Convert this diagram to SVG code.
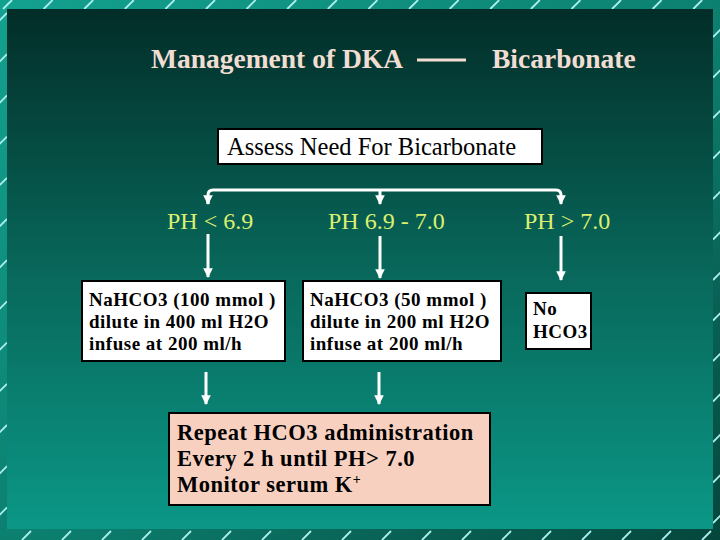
<svg xmlns="http://www.w3.org/2000/svg" width="720" height="540" viewBox="0 0 720 540">
<defs>
<linearGradient id="outer" x1="0" y1="0" x2="1" y2="1">
<stop offset="0" stop-color="#13a18f"/>
<stop offset="0.55" stop-color="#0c7d6d"/>
<stop offset="1" stop-color="#05463c"/>
</linearGradient>
<linearGradient id="inner" x1="0" y1="0" x2="0" y2="1">
<stop offset="0" stop-color="#022d28"/>
<stop offset="0.5" stop-color="#08675a"/>
<stop offset="1" stop-color="#0b9786"/>
</linearGradient>
<marker id="ah" viewBox="0 0 10 10" refX="9" refY="5" markerWidth="3.2" markerHeight="3.2" orient="auto" markerUnits="strokeWidth">
<path d="M0,0 L10,5 L0,10 z" fill="#ffffff"/>
</marker>
<style>
.title{font-family:"Liberation Serif","Times New Roman",serif;font-weight:bold;font-size:27.5px;fill:#f2ddd2}
.ph{font-family:"Liberation Serif","Times New Roman",serif;font-size:24px;fill:#dcf070}
.box{fill:#ffffff;stroke:#000000;stroke-width:2}
.btxt{font-family:"Liberation Serif","Times New Roman",serif;font-weight:bold;font-size:19px;fill:#000000;letter-spacing:0.5px}
.conn{fill:none;stroke:#ffffff;stroke-width:3}
.slash{fill:none;stroke:#aaeeee;stroke-width:1.8}
</style>
</defs>
<rect x="0" y="0" width="720" height="540" fill="url(#outer)"/>
<path class="slash" d="M3 9L12 0M43.6 9L52.6 0M84.2 9L93.2 0M124.8 9L133.8 0M165.4 9L174.4 0M206 9L215 0M246.6 9L255.6 0M287.2 9L296.2 0M327.8 9L336.8 0M368.4 9L377.4 0M409 9L418 0M449.6 9L458.6 0M490.2 9L499.2 0M530.8 9L539.8 0M571.4 9L580.4 0M612 9L621 0M652.6 9L661.6 0M693.2 9L702.2 0
M22 540L31 531M62 540L71 531M102 540L111 531M142 540L151 531M182 540L191 531M222 540L231 531M262 540L271 531M302 540L311 531M342 540L351 531M382 540L391 531M422 540L431 531M462 540L471 531M502 540L511 531M542 540L551 531M582 540L591 531M622 540L631 531M662 540L671 531M702 540L711 531
M-1 21L7 13M-1 62.2L7 54.2M-1 103.4L7 95.4M-1 144.6L7 136.6M-1 185.8L7 177.8M-1 227L7 219M-1 268.2L7 260.2M-1 309.4L7 301.4M-1 350.6L7 342.6M-1 391.8L7 383.8M-1 433L7 425M-1 474.2L7 466.2M-1 515.4L7 507.4
M713 37L721 29M713 77.5L721 69.5M713 118L721 110M713 158.5L721 150.5M713 199L721 191M713 239.5L721 231.5M713 280L721 272M713 320.5L721 312.5M713 361L721 353M713 401.5L721 393.5M713 442L721 434M713 482.5L721 474.5M713 523L721 515"/>
<rect x="7" y="9" width="706" height="520" fill="url(#inner)"/>

<g id="title">
<text class="title" x="151" y="68">Management of DKA</text>
<line x1="417" y1="60" x2="466" y2="60" stroke="#f2ddd2" stroke-width="3"/>
<text class="title" x="492" y="68">Bicarbonate</text>
</g>

<g id="connectors">
<path class="conn" d="M208 204V195Q208 190 213 190H556Q561 190 561 195V204" marker-end="url(#ah)"/>
<path class="conn" d="M208 198V204" marker-end="url(#ah)"/>
<path class="conn" d="M380 190V204" marker-end="url(#ah)"/>
<path class="conn" d="M208 234V277" marker-end="url(#ah)"/>
<path class="conn" d="M380 236V278" marker-end="url(#ah)"/>
<path class="conn" d="M561 236V280" marker-end="url(#ah)"/>
<path class="conn" d="M206 372V404" marker-end="url(#ah)"/>
<path class="conn" d="M379 372V404" marker-end="url(#ah)"/>
</g>

<g id="assess">
<rect class="box" x="218" y="129" width="324" height="35"/>
<text x="227" y="155" font-family="Liberation Serif, Times New Roman, serif" font-size="24.5" fill="#000">Assess Need For Bicarbonate</text>
</g>

<g id="ph1"><text class="ph" x="167" y="229">PH &lt; 6.9</text></g>
<g id="ph2"><text class="ph" x="328" y="229">PH 6.9 - 7.0</text></g>
<g id="ph3"><text class="ph" x="524" y="229">PH &gt; 7.0</text></g>

<g id="box1">
<rect class="box" x="82" y="281" width="203" height="80"/>
<text class="btxt" x="89" y="306">NaHCO3 (100 mmol )</text>
<text class="btxt" x="89" y="328">dilute in 400 ml H2O</text>
<text class="btxt" x="89" y="350">infuse at 200 ml/h</text>
</g>

<g id="box2">
<rect class="box" x="303" y="281" width="198" height="80"/>
<text class="btxt" x="310" y="306">NaHCO3 (50 mmol )</text>
<text class="btxt" x="310" y="328">dilute in 200 ml H2O</text>
<text class="btxt" x="310" y="350">infuse at 200 ml/h</text>
</g>

<g id="box3">
<rect class="box" x="526" y="293" width="65" height="56"/>
<text class="btxt" x="533" y="315">No</text>
<text class="btxt" x="533" y="338">HCO3</text>
</g>

<g id="repeat">
<rect x="169" y="413" width="321" height="92" fill="#f8d0c0" stroke="#000" stroke-width="2"/>
<text class="btxt" x="177" y="440" style="font-size:22.5px">Repeat HCO3 administration</text>
<text class="btxt" x="177" y="466" style="font-size:22.5px">Every 2 h until PH&gt; 7.0</text>
<text class="btxt" x="177" y="492" style="font-size:22.5px">Monitor serum K<tspan dy="-8" font-size="14">+</tspan></text>
</g>
</svg>
